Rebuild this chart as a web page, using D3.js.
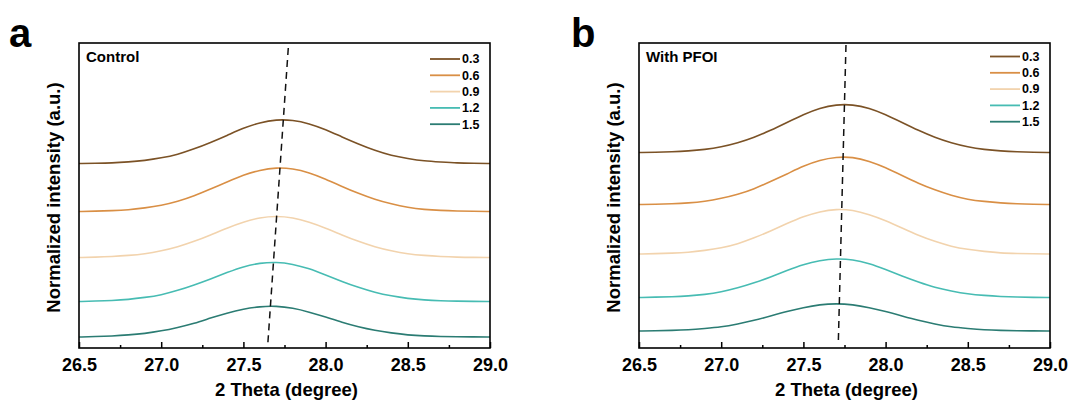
<!DOCTYPE html>
<html>
<head>
<meta charset="utf-8">
<script src="https://cdn.jsdelivr.net/npm/d3@7"></script>
<style>
  body { margin: 0; background: #fff; }
  svg text { font-family: "Liberation Sans", Arial, sans-serif; font-weight: bold; fill: #000; }
</style>
</head>
<body>
<svg id="chart" width="1072" height="404"></svg>
<script>
// 2 theta sampling grid (degree)
const theta = [26.5, 26.6, 26.7, 26.8, 26.9, 27.0, 27.1, 27.2, 27.3, 27.4, 27.5, 27.6, 27.7,
               27.8, 27.9, 28.0, 28.1, 28.2, 28.3, 28.4, 28.5, 28.6, 28.7, 28.8, 28.9, 29.0];

const seriesNames = ["0.3", "0.6", "0.9", "1.2", "1.5"];
const seriesColors = ["#7b5226", "#d98f45", "#f2d3ad", "#47bcb3", "#2b7c73"];

// Control, normalized intensity (stacked, a.u.)
const control03 = [3.69, 3.695, 3.70, 3.72, 3.75, 3.80, 3.87, 3.98, 4.11, 4.25, 4.40, 4.51, 4.57,
                   4.56, 4.49, 4.37, 4.22, 4.08, 3.95, 3.85, 3.79, 3.74, 3.72, 3.70, 3.695, 3.69];
const control06 = [2.73, 2.737, 2.746, 2.76, 2.80, 2.85, 2.93, 3.04, 3.18, 3.32, 3.46, 3.56, 3.61,
                   3.59, 3.51, 3.38, 3.23, 3.09, 2.97, 2.88, 2.81, 2.77, 2.75, 2.74, 2.734, 2.73];
const control09 = [1.81, 1.817, 1.83, 1.85, 1.88, 1.94, 2.02, 2.13, 2.26, 2.40, 2.52, 2.61, 2.64,
                   2.61, 2.52, 2.40, 2.26, 2.13, 2.02, 1.94, 1.88, 1.85, 1.83, 1.817, 1.812, 1.81];
const control12 = [0.93, 0.939, 0.95, 0.97, 1.01, 1.06, 1.15, 1.26, 1.38, 1.51, 1.63, 1.70, 1.72,
                   1.68, 1.59, 1.46, 1.33, 1.21, 1.11, 1.04, 0.99, 0.96, 0.944, 0.936, 0.932, 0.93];
const control15 = [0.22, 0.228, 0.24, 0.26, 0.29, 0.34, 0.41, 0.49, 0.60, 0.70, 0.78, 0.83, 0.84,
                   0.80, 0.72, 0.62, 0.51, 0.42, 0.35, 0.30, 0.26, 0.24, 0.23, 0.224, 0.222, 0.22];

// With PFOI, normalized intensity (stacked, a.u.)
const pfoi03 = [3.91, 3.916, 3.924, 3.94, 3.97, 4.02, 4.10, 4.21, 4.35, 4.51, 4.67, 4.80, 4.87,
                4.87, 4.80, 4.67, 4.51, 4.35, 4.21, 4.10, 4.02, 3.97, 3.94, 3.924, 3.916, 3.91];
const pfoi06 = [2.87, 2.876, 2.885, 2.90, 2.93, 2.99, 3.07, 3.18, 3.33, 3.48, 3.64, 3.76, 3.82,
                3.82, 3.74, 3.61, 3.45, 3.29, 3.16, 3.05, 2.97, 2.93, 2.90, 2.883, 2.875, 2.87];
const pfoi09 = [1.88, 1.887, 1.896, 1.91, 1.95, 2.00, 2.08, 2.20, 2.34, 2.49, 2.63, 2.73, 2.78,
                2.76, 2.67, 2.55, 2.40, 2.25, 2.13, 2.03, 1.97, 1.93, 1.90, 1.89, 1.884, 1.88];
const pfoi12 = [1.01, 1.017, 1.025, 1.04, 1.07, 1.12, 1.20, 1.30, 1.42, 1.55, 1.67, 1.75, 1.79,
                1.77, 1.69, 1.57, 1.44, 1.32, 1.21, 1.14, 1.08, 1.05, 1.03, 1.018, 1.013, 1.01];
const pfoi15 = [0.34, 0.345, 0.352, 0.364, 0.39, 0.42, 0.48, 0.55, 0.64, 0.73, 0.81, 0.87, 0.89,
                0.87, 0.81, 0.73, 0.64, 0.55, 0.48, 0.42, 0.39, 0.364, 0.352, 0.345, 0.342, 0.34];

// peak shift guide lines [theta, intensity]
const controlGuide = [[27.773, 6.00], [27.648, 0.06]];
const pfoiGuide = [[27.759, 6.06], [27.712, 0.06]];

const majorTicks = [26.5, 27.0, 27.5, 28.0, 28.5, 29.0];
const minorTicks = [26.75, 27.25, 27.75, 28.25, 28.75];

const svg = d3.select('#chart');
svg.append('rect').attr('width', 1072).attr('height', 404).attr('fill', '#fff');

const plotW = 411, plotTop = 43, plotBottom = 348;

function drawPanel(left, letter, letterX, letterY, title, seriesList, guide, legendTop) {
    const g = svg.append('g');
    const x = d3.scaleLinear().domain([26.5, 29.0]).range([left, left + plotW]);
    const y = d3.scaleLinear().domain([0, 6.1]).range([plotBottom, plotTop]);

    // curves
    const line = d3.line()
        .x((d, i) => x(theta[i]))
        .y(d => y(d))
        .curve(d3.curveBasis);

    g.append('g')
        .selectAll('path')
        .data(seriesList)
        .join('path')
        .attr('fill', 'none')
        .attr('stroke', (d, i) => seriesColors[i])
        .attr('stroke-width', 1.6)
        .attr('d', d => line(d));

    // dashed guide
    g.append('path')
        .attr('fill', 'none')
        .attr('stroke', '#111')
        .attr('stroke-width', 1.5)
        .attr('stroke-dasharray', '7,5')
        .attr('d', d3.line().x(d => x(d[0])).y(d => y(d[1]))(guide));

    // axes (ticks inside)
    const xAxis = g.append('g')
        .attr('transform', `translate(0,${plotBottom})`)
        .call(d3.axisBottom(x).tickValues(majorTicks).tickSizeInner(-6).tickSizeOuter(0)
            .tickPadding(10).tickFormat(d3.format('.1f')));
    xAxis.select('.domain').remove();
    xAxis.selectAll('line').attr('stroke', '#000').attr('stroke-width', 1.5);
    xAxis.selectAll('text').attr('font-size', 18).attr('font-family', null).attr('fill', '#000');

    const minorAxis = g.append('g')
        .attr('transform', `translate(0,${plotBottom})`)
        .call(d3.axisBottom(x).tickValues(minorTicks).tickSizeInner(-3).tickSizeOuter(0).tickFormat(''));
    minorAxis.select('.domain').remove();
    minorAxis.selectAll('line').attr('stroke', '#000').attr('stroke-width', 1.5);

    // frame
    g.append('rect')
        .attr('x', left).attr('y', plotTop)
        .attr('width', plotW).attr('height', plotBottom - plotTop)
        .attr('fill', 'none').attr('stroke', '#000').attr('stroke-width', 1.6);

    // axis titles
    g.append('text')
        .text('2 Theta (degree)')
        .attr('x', left + plotW / 2 + 2)
        .attr('y', 396)
        .attr('text-anchor', 'middle')
        .attr('font-size', 18.5);

    g.append('text')
        .text('Normalized intensity (a.u.)')
        .attr('transform', `translate(${left - 19},${(plotTop + plotBottom) / 2 + 2}) rotate(-90)`)
        .attr('text-anchor', 'middle')
        .attr('font-size', 18.5);

    // panel title and letter
    g.append('text').text(title)
        .attr('x', left + 7).attr('y', 62)
        .attr('font-size', 15);

    g.append('text').text(letter)
        .attr('x', letterX).attr('y', letterY)
        .attr('font-size', 40);

    // legend
    const legend = g.append('g')
        .selectAll('g')
        .data(seriesNames)
        .join('g')
        .attr('transform', (d, i) => `translate(${left + plotW - 60},${legendTop + i * 16.3})`);
    legend.append('line')
        .attr('x1', 0).attr('x2', 30)
        .attr('stroke', (d, i) => seriesColors[i])
        .attr('stroke-width', 1.8);
    legend.append('text')
        .text(d => d)
        .attr('x', 32).attr('dy', '0.35em')
        .attr('font-size', 12.5);
}

drawPanel(79, 'a', 9, 47, 'Control',
    [control03, control06, control09, control12, control15], controlGuide, 59);
drawPanel(639, 'b', 571, 47, 'With PFOI',
    [pfoi03, pfoi06, pfoi09, pfoi12, pfoi15], pfoiGuide, 56.5);
</script>
</body>
</html>
